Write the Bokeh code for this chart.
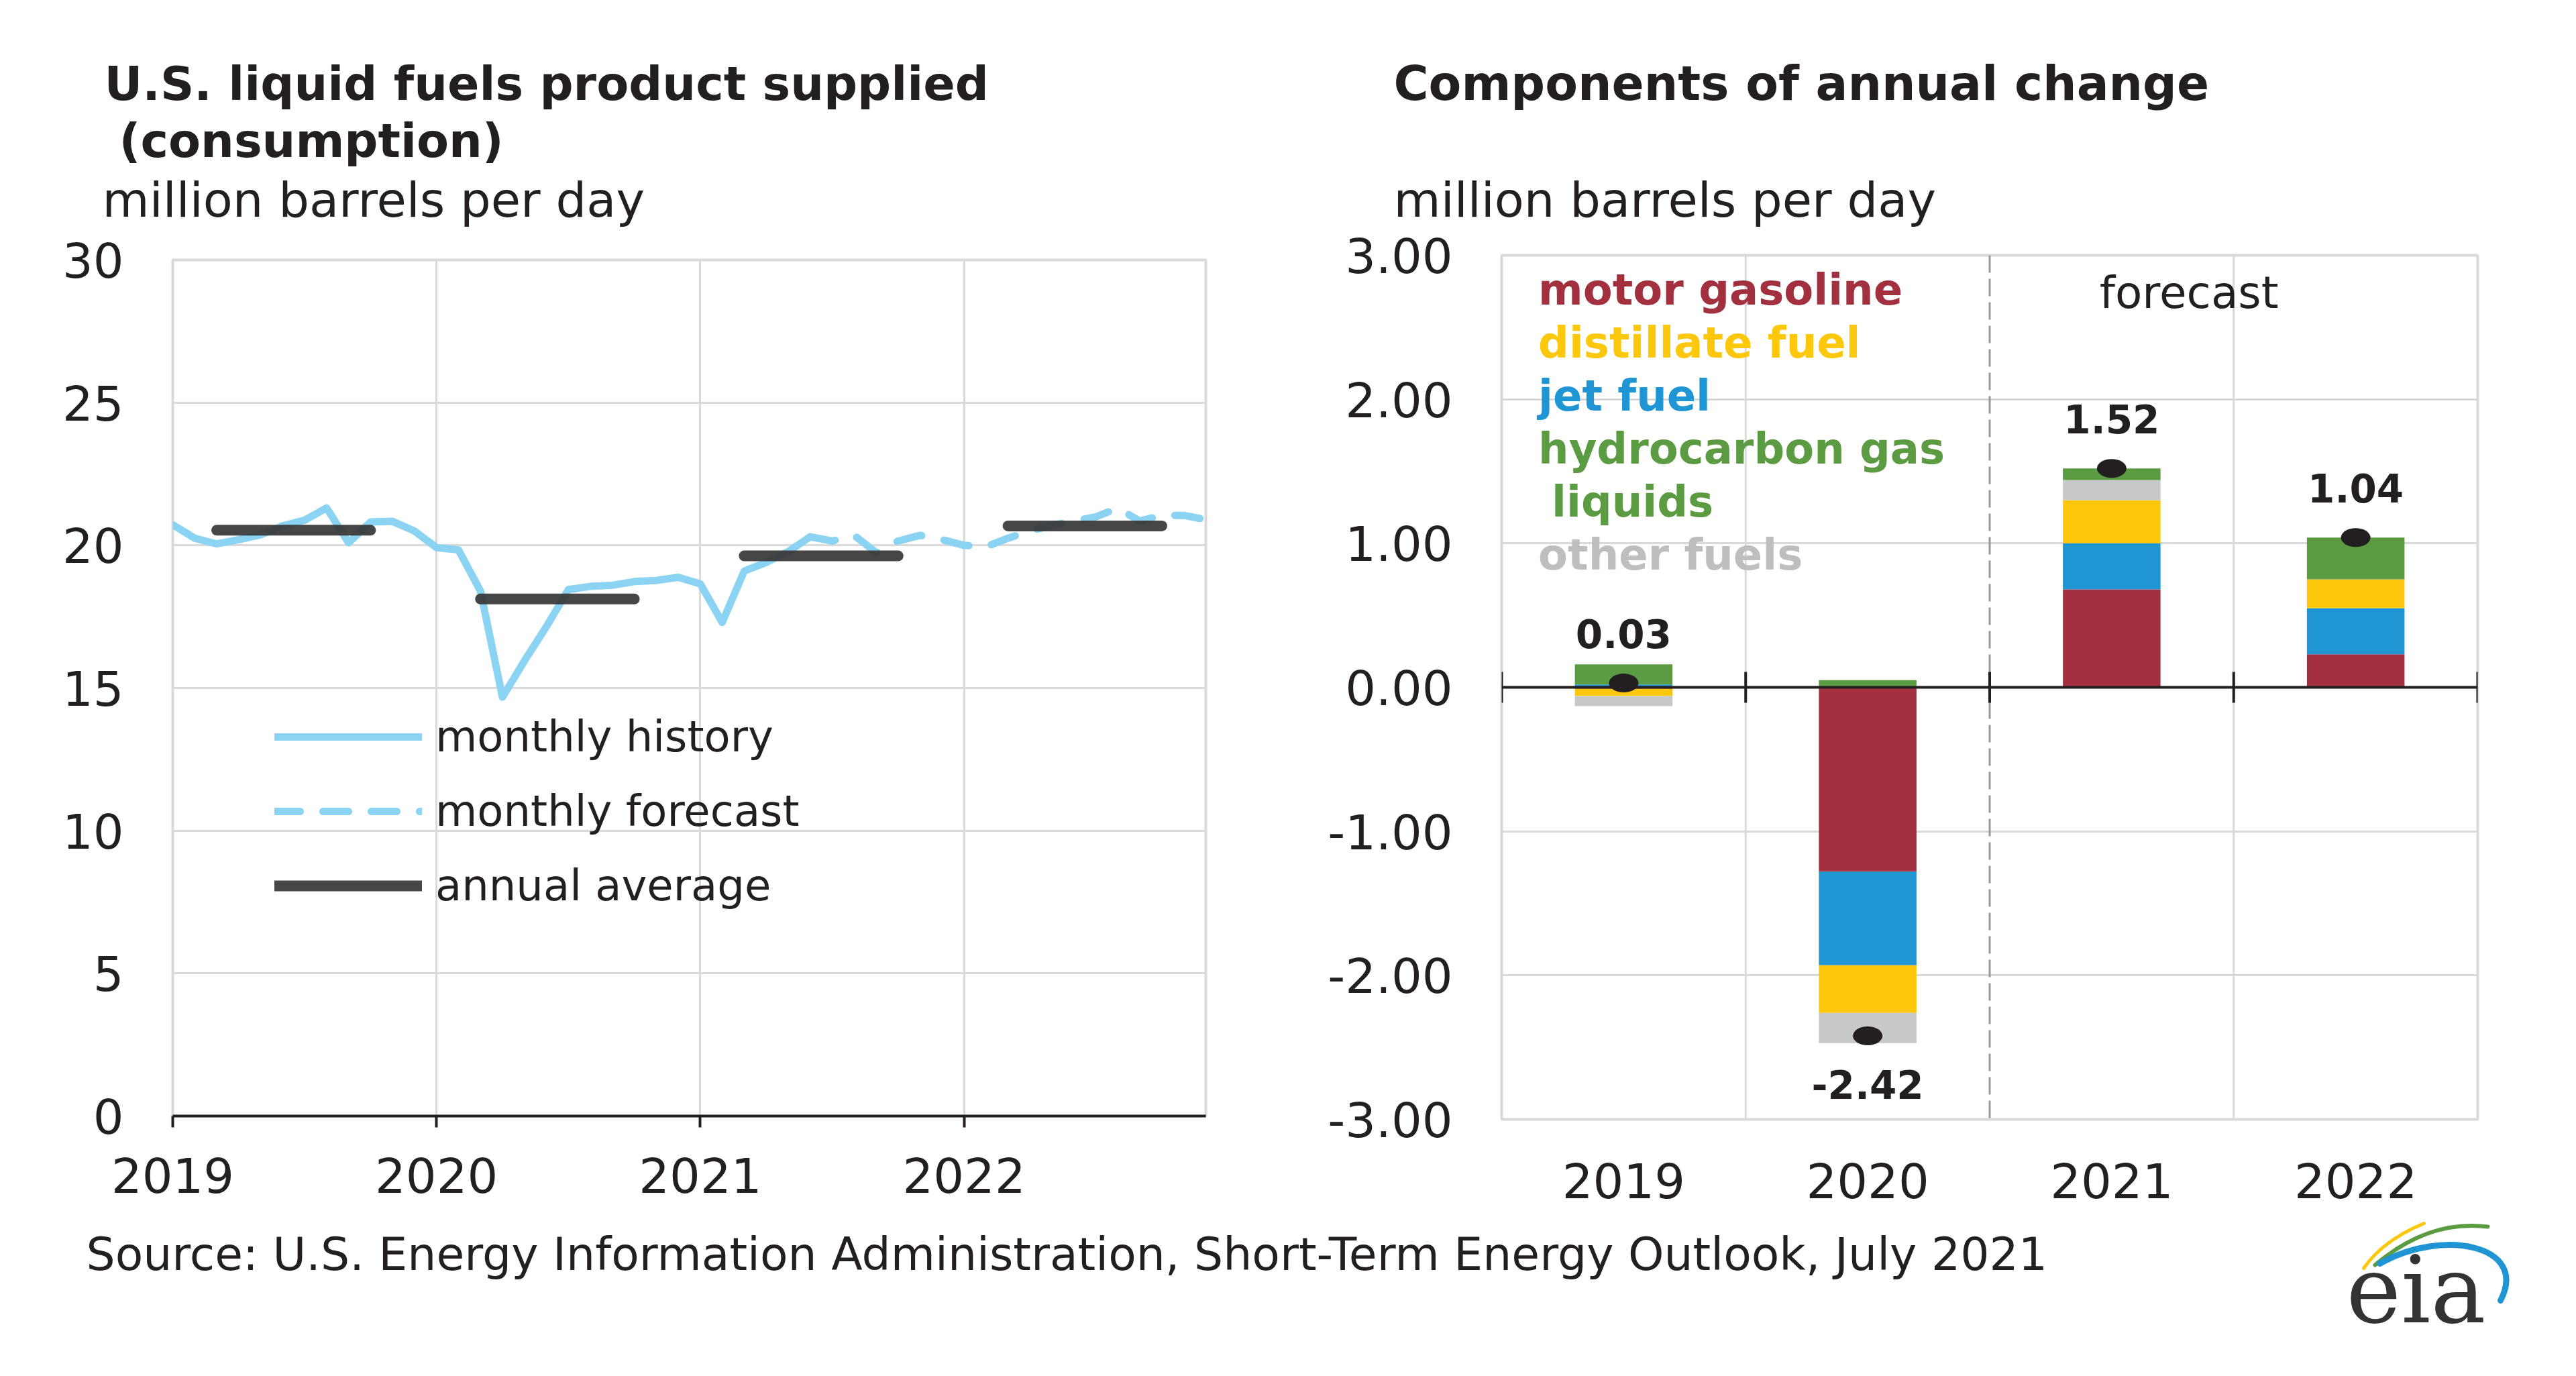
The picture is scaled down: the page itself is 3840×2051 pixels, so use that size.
from bokeh.plotting import figure
from bokeh.layouts import column, row
from bokeh.models import (ColumnDataSource, FixedTicker, Range1d, FactorRange, Span, Label,
                          Legend, LegendItem, NumeralTickFormatter, PrintfTickFormatter)
from bokeh.core.properties import value
from bokeh.embed import file_html
from bokeh.resources import INLINE

# ------------------------------------------------------------------ data
START_YEAR = 2019
# monthly history, Jan 2019 - Jun 2021 (million b/d)
history_values = [20.72, 20.25, 20.05, 20.20, 20.37, 20.68, 20.88, 21.31, 20.09, 20.82, 20.84, 20.50,
                  19.92, 19.84, 18.40, 14.68, 15.95, 17.15, 18.45, 18.56, 18.60, 18.73, 18.77, 18.88,
                  18.65, 17.30, 19.10, 19.40, 19.78, 20.30]
# monthly forecast, Jul 2021 - Dec 2022
forecast_values = [20.15, 20.35, 19.75, 20.15, 20.35, 20.20,
                   20.00, 19.95, 20.25, 20.50, 20.70, 20.85, 21.00, 21.30, 20.85, 21.05, 21.05, 20.90]
annual_years = [2019, 2020, 2021, 2022]
annual_average = [20.53, 18.12, 19.63, 20.68]
left_year_ticks = [2019, 2020, 2021, 2022]
left_value_ticks = [0, 5, 10, 15, 20, 25, 30]

change_years = ["2019", "2020", "2021", "2022"]
forecast_first_year = "2021"
motor_gasoline = [-0.01, -1.28, 0.68, 0.23]
jet_fuel = [0.02, -0.65, 0.32, 0.32]
distillate_fuel = [-0.05, -0.33, 0.30, 0.20]
other_fuels = [-0.07, -0.21, 0.14, 0.00]
hydrocarbon_gas_liquids = [0.14, 0.05, 0.08, 0.29]
annual_change = [0.03, -2.42, 1.52, 1.04]
right_value_ticks = [-3, -2, -1, 0, 1, 2, 3]

# ------------------------------------------------------------------ style
FONT = "DejaVu Sans"
TEXT = "#231F20"
GRID = "#D9D9D9"
HIST_BLUE = "#8AD3F3"
ANNUAL = "#363636"
C_MOTOR = "#A3303F"
C_DIST = "#FDC70C"
C_JET = "#1F95D3"
C_HGL = "#5B9B41"
C_OTHER = "#C7C8CA"
C_OTHER_TEXT = "#BDBEC0"

TOTAL_W = 3832
TOP_H = 340
ROW_H = 1480
BOT_H = 223


def canvas_fig(w, h):
    f = figure(width=w, height=h, x_range=Range1d(0, w), y_range=Range1d(0, h),
               output_backend="svg", toolbar_location=None, min_border=0,
               x_axis_location=None, y_axis_location=None)
    f.grid.visible = False
    f.outline_line_color = None
    return f


def style_axes(p):
    p.axis.major_label_text_font = FONT
    p.axis.major_label_text_font_size = "72px"
    p.axis.major_label_text_color = TEXT
    p.axis.minor_tick_line_color = None
    p.outline_line_color = GRID
    p.outline_line_width = 4
    p.grid.grid_line_color = GRID
    p.grid.grid_line_width = 3
    try:
        p.frame_align = False
    except Exception:
        pass


def text_label(x, y, text, size, bold=False, font=FONT, color=TEXT):
    return Label(x=x, y=y, text=text, text_font=font, text_font_size=size,
                 text_font_style="bold" if bold else "normal", text_color=color,
                 text_baseline="middle", text_align="left")


# ------------------------------------------------------------------ title strip
pt = canvas_fig(TOTAL_W, TOP_H)
pt.add_layout(text_label(155, 216, "U.S. liquid fuels product supplied", "70px", bold=True))
pt.add_layout(text_label(177, 131, "(consumption)", "70px", bold=True))
pt.add_layout(text_label(152, 43, "million barrels per day", "72px"))
pt.add_layout(text_label(2077, 216, "Components of annual change", "71px", bold=True))
pt.add_layout(text_label(2077, 43, "million barrels per day", "72px"))

# ------------------------------------------------------------------ left chart
n_hist = len(history_values)
n_total = n_hist + len(forecast_values)
hist_x = [START_YEAR + i / 12 for i in range(n_hist)]
fc_x = [START_YEAR + i / 12 for i in range(n_hist - 1, n_total)]
fc_y = [history_values[-1]] + forecast_values

p1 = figure(width=1950, height=ROW_H, output_backend="svg", toolbar_location=None,
            x_range=Range1d(START_YEAR, START_YEAR + (n_total - 1) / 12),
            y_range=Range1d(left_value_ticks[0], left_value_ticks[-1]),
            min_border_left=257, min_border_right=153, min_border_top=47, min_border_bottom=157)
style_axes(p1)
p1.xaxis.ticker = FixedTicker(ticks=left_year_ticks)
p1.xgrid.ticker = FixedTicker(ticks=left_year_ticks)
p1.xaxis.formatter = PrintfTickFormatter(format="%d")
p1.yaxis.ticker = FixedTicker(ticks=left_value_ticks)
p1.ygrid.ticker = FixedTicker(ticks=left_value_ticks)
p1.xaxis.axis_line_color = TEXT
p1.xaxis.axis_line_width = 4
p1.xaxis.major_tick_line_color = TEXT
p1.xaxis.major_tick_line_width = 4
p1.xaxis.major_tick_out = 17
p1.xaxis.major_tick_in = 0
p1.xaxis.major_label_standoff = 44
p1.yaxis.axis_line_color = None
p1.yaxis.major_tick_out = 0
p1.yaxis.major_tick_in = 0
p1.yaxis.major_label_standoff = 73

r_hist = p1.line(hist_x, history_values, line_color=HIST_BLUE, line_width=11,
                 line_join="round", line_cap="round")
r_fc = p1.line(fc_x, fc_y, line_color=HIST_BLUE, line_width=11, line_dash="38 34",
               line_join="round", line_cap="round")
ann_src = ColumnDataSource(dict(x0=[y + 2 / 12 for y in annual_years],
                                x1=[y + 9 / 12 for y in annual_years],
                                y=annual_average))
r_ann = p1.segment(x0="x0", y0="y", x1="x1", y1="y", source=ann_src, line_color=ANNUAL,
                   line_width=16, line_cap="round", line_alpha=0.92)

legend = Legend(items=[LegendItem(label="monthly history", renderers=[r_hist]),
                       LegendItem(label="monthly forecast", renderers=[r_fc]),
                       LegendItem(label="annual average", renderers=[r_ann])],
                location=(152, 293), orientation="vertical", glyph_width=220, glyph_height=100,
                label_height=100, label_standoff=20, spacing=11, padding=0, margin=0,
                border_line_color=None, background_fill_alpha=0,
                label_text_font=FONT, label_text_font_size="64px", label_text_color=TEXT)
p1.add_layout(legend)

# ------------------------------------------------------------------ right chart
p2 = figure(width=TOTAL_W - 1950, height=ROW_H, output_backend="svg", toolbar_location=None,
            x_range=FactorRange(factors=change_years),
            y_range=Range1d(right_value_ticks[0], right_value_ticks[-1]),
            min_border_left=288, min_border_right=139, min_border_top=40, min_border_bottom=152)
style_axes(p2)
p2.xgrid.grid_line_color = None
p2.yaxis.ticker = FixedTicker(ticks=right_value_ticks)
p2.ygrid.ticker = FixedTicker(ticks=right_value_ticks)
p2.yaxis.formatter = NumeralTickFormatter(format="0.00")
p2.axis.axis_line_color = None
p2.axis.major_tick_out = 0
p2.axis.major_tick_in = 0
p2.yaxis.major_label_standoff = 73
p2.xaxis.major_label_standoff = 64

px_per_unit = (ROW_H - 40 - 152) / (right_value_ticks[-1] - right_value_ticks[0])
n_cat = len(change_years)
boundaries = list(range(n_cat + 1))
fc_boundary = change_years.index(forecast_first_year)
for b in boundaries[1:-1]:
    if b == fc_boundary:
        p2.add_layout(Span(location=b, dimension="height", line_color="#9A9A9A",
                           line_width=3, line_dash="26 9", level="underlay"))
    else:
        p2.add_layout(Span(location=b, dimension="height", line_color=GRID,
                           line_width=3, level="underlay"))

stack = [(motor_gasoline, C_MOTOR), (jet_fuel, C_JET), (distillate_fuel, C_DIST),
         (other_fuels, C_OTHER), (hydrocarbon_gas_liquids, C_HGL)]
pos = [0.0] * n_cat
neg = [0.0] * n_cat
for vals, color in stack:
    bottoms, tops = [], []
    for i, v in enumerate(vals):
        if v >= 0:
            b, t = pos[i], pos[i] + v
            pos[i] = t
        else:
            b, t = neg[i] + v, neg[i]
            neg[i] = b
        bottoms.append(b)
        tops.append(t)
    p2.vbar(x=change_years, bottom=bottoms, top=tops, width=0.4, fill_color=color,
            line_color=None)

p2.add_layout(Span(location=0, dimension="width", line_color=TEXT, line_width=4))
tick_half = 23 / px_per_unit
p2.segment(x0=boundaries, y0=[-tick_half] * len(boundaries), x1=boundaries,
           y1=[tick_half] * len(boundaries), line_color=TEXT, line_width=4)

p2.ellipse(x=change_years, y=annual_change, width=44, height=28, width_units="screen",
           height_units="screen", fill_color=TEXT, line_color=None)

lab_src = ColumnDataSource(dict(
    x=change_years,
    y=[v + (74 if v >= 0 else -73) / px_per_unit for v in annual_change],
    text=[f"{v:.2f}" for v in annual_change]))
p2.text(x="x", y="y", text="text", source=lab_src, text_font=value(FONT),
        text_font_size=value("58px"), text_font_style="bold", text_align="center",
        text_baseline="middle", text_color=TEXT)

# colour-coded legend text
legend_rows = [("motor gasoline", C_MOTOR, 0.0), ("distillate fuel", C_DIST, 0.0),
               ("jet fuel", C_JET, 0.0), ("hydrocarbon gas", C_HGL, 0.0),
               ("liquids", C_HGL, 20 / 363.75), ("other fuels", C_OTHER_TEXT, 0.0)]
row_step = 79 / px_per_unit
leg_src = ColumnDataSource(dict(
    x=[0.15 + dx for _, _, dx in legend_rows],
    y=[2.76 - k * row_step for k in range(len(legend_rows))],
    text=[t for t, _, _ in legend_rows],
    color=[c for _, c, _ in legend_rows]))
p2.text(x="x", y="y", text="text", text_color="color", source=leg_src, text_font=value(FONT),
        text_font_size=value("64px"), text_font_style="bold", text_align="left",
        text_baseline="middle")
p2.add_layout(Label(x=2.45, y=2.737, text="forecast", text_font=FONT, text_font_size="66px",
                    text_color=TEXT, text_baseline="middle", text_align="left"))

# ------------------------------------------------------------------ source + logo strip
pb = canvas_fig(TOTAL_W, BOT_H)
pb.add_layout(text_label(128, 174, "Source: U.S. Energy Information Administration, "
                                   "Short-Term Energy Outlook, July 2021", "68px"))
pb.quadratic(x0=[3523], y0=[153], x1=[3613], y1=[220], cx=[3552], cy=[195],
             line_color=C_DIST, line_width=5, line_cap="round")
pb.quadratic(x0=[3540], y0=[158], x1=[3708], y1=[215], cx=[3620], cy=[226],
             line_color=C_HGL, line_width=6, line_cap="round")
pb.bezier(x0=[3547], y0=[160], x1=[3727], y1=[105], cx0=[3640], cy0=[213], cx1=[3770], cy1=[188],
          line_color=C_JET, line_width=9, line_cap="round")
pb.add_layout(text_label(3497, 120, "eia", "138px", font="DejaVu Serif", color="#333333"))

layout = column(pt, row(p1, p2), pb)
open("out.html", "w").write(file_html(layout, INLINE))
